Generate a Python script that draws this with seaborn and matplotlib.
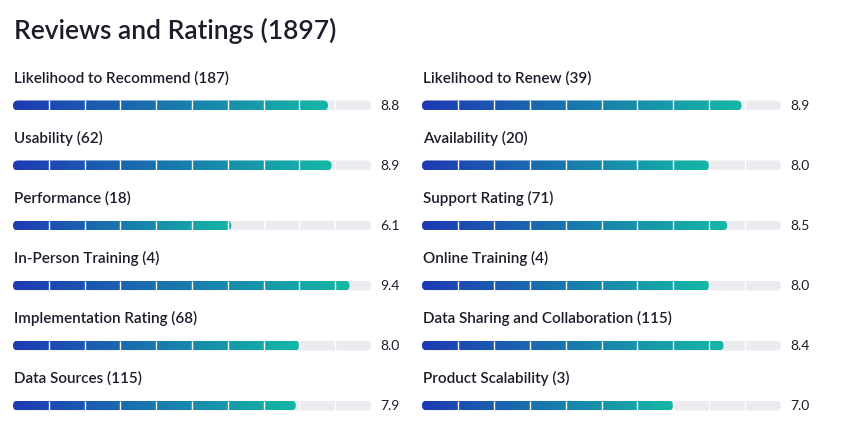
import numpy as np
import pandas as pd
import seaborn as sns
import matplotlib.pyplot as plt
from matplotlib.colors import LinearSegmentedColormap
from matplotlib.patches import FancyBboxPatch

title = "Reviews and Ratings (1897)"

left_names = ["Likelihood to Recommend", "Usability", "Performance",
              "In-Person Training", "Implementation Rating", "Data Sources"]
left_counts = [187, 62, 18, 4, 68, 115]
left_scores = [8.8, 8.9, 6.1, 9.4, 8.0, 7.9]

right_names = ["Likelihood to Renew", "Availability", "Support Rating",
               "Online Training", "Data Sharing and Collaboration", "Product Scalability"]
right_counts = [39, 20, 71, 4, 115, 3]
right_scores = [8.9, 8.0, 8.5, 8.0, 8.4, 7.0]

MAX_SCORE = 10
W, H = 861, 436
TEXT = "#1c1d2b"
TRACK = "#ebebf0"
cmap = LinearSegmentedColormap.from_list("rating", ["#1e3ab4", "#14b8a6"])

sns.set_theme(style="white")
plt.rcParams["font.family"] = ["Lato", "DejaVu Sans"]

fig = plt.figure(figsize=(W / 100, H / 100), dpi=100)
fig.patch.set_facecolor("white")


def px_box(x, y, w, h):
    return [x / W, 1 - (y + h) / H, w / W, h / H]


def rounded(ax, rect, wpx, hpx, **kw):
    x, y, w, h = rect.get_x(), rect.get_y(), rect.get_width(), rect.get_height()
    rx = (hpx / 2) * MAX_SCORE / wpx
    ry = h / 2
    patch = FancyBboxPatch((x, y), w, h, boxstyle=f"round,pad=0,rounding_size={rx}",
                           mutation_aspect=ry / rx, **kw)
    ax.add_patch(patch)
    return patch


def draw_rating(x0, wpx, row, name, count, score):
    hpx = 10
    ax = fig.add_axes(px_box(x0, 100.5 + 60 * row, wpx, hpx))
    sns.barplot(x=[MAX_SCORE], y=[0], orient="h", color=TRACK, ax=ax)
    sns.barplot(x=[score], y=[0], orient="h", color="#14b8a6", ax=ax)
    track_rect, fill_rect = ax.patches[0], ax.patches[1]
    track_rect.remove()
    fill_rect.remove()

    rounded(ax, track_rect, wpx, hpx, facecolor=TRACK, edgecolor="none", zorder=1)
    fill = rounded(ax, fill_rect, wpx, hpx, facecolor="none", edgecolor="none", zorder=2)
    y0 = fill_rect.get_y()
    y1 = y0 + fill_rect.get_height()
    im = ax.imshow(np.linspace(0, 1, 256)[None, :], extent=[0, score, y0, y1],
                   cmap=cmap, aspect="auto", zorder=2)
    im.set_clip_path(fill)
    ax.vlines(np.arange(1, MAX_SCORE), y0, y1, colors="white", lw=1.0, zorder=3)

    ax.set_xlim(0, MAX_SCORE)
    ax.set_ylim(y0, y1)
    ax.set_axis_off()

    ax.annotate(f"{score:.1f}", xy=(1, 0.5), xycoords="axes fraction",
                xytext=(9, -0.5), textcoords="offset pixels", va="center",
                fontsize=10, color=TEXT)
    ax.annotate(f"{name} ({count})", xy=(0, 1), xycoords="axes fraction",
                xytext=(1, 17.5), textcoords="offset pixels", va="baseline",
                fontsize=11, color=TEXT, fontweight="semibold")


for i in range(len(left_names)):
    draw_rating(13, 358, i, left_names[i], left_counts[i], left_scores[i])
for i in range(len(right_names)):
    draw_rating(422, 359, i, right_names[i], right_counts[i], right_scores[i])

fig.text(14 / W, 1 - 39 / H, title, va="baseline", fontsize=19, color=TEXT,
         fontweight="semibold")

fig.savefig("out.png", dpi=100, facecolor="white")
